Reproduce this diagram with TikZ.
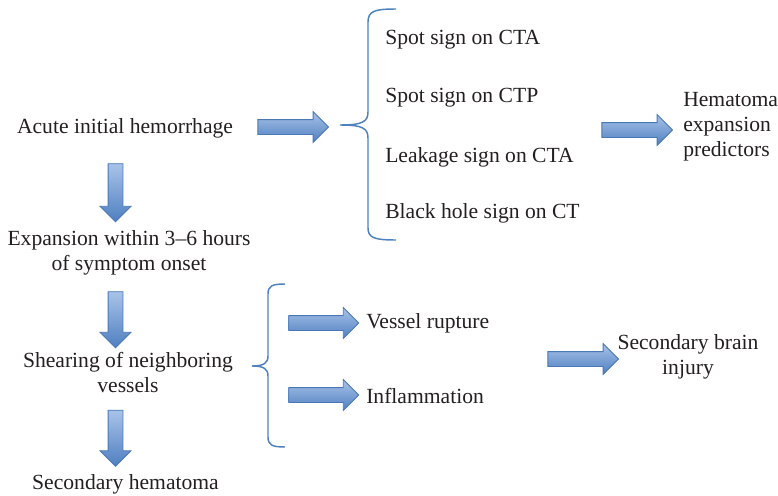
\documentclass[tikz,border=0pt]{standalone}
\usepackage{fontspec}
\setmainfont{Liberation Serif}
\usetikzlibrary{shapes.arrows}
\definecolor{arrowlight}{HTML}{A9C3E8}
\definecolor{arrowdark}{HTML}{4F7FC1}
\definecolor{arrowedge}{HTML}{4A78B4}
\definecolor{bracecol}{HTML}{4F81BD}
\definecolor{txt}{HTML}{231F20}

\begin{document}
\begin{tikzpicture}[x=0.75pt, y=-0.75pt,
      lbl/.style={font=\rmfamily\fontsize{16.2}{18.75}\selectfont, text=txt, inner sep=0pt, align=center},
      item/.style={lbl, anchor=west, align=left},
      blockarrow/.style={single arrow, draw=arrowedge, line width=0.6pt, inner sep=5.25pt,
                   single arrow head extend=6pt, minimum height=53pt,
                   top color=arrowlight, bottom color=arrowdark},
      downarrow/.style={blockarrow, rotate=-90, minimum height=42pt},
      brace/.style={draw=bracecol, line width=1.1pt}]
    \useasboundingbox (0,0) rectangle (778,496);
    \node[lbl] (acute) at (125,128) {Acute initial hemorrhage};
    \node[blockarrow] (a1) at (289.5,127) {};
    \draw[brace] (396,9) .. controls (375,9) and (368,11) .. (368,22) -- (368,112)
      .. controls (368,122) and (362,125) .. (340,125)
      .. controls (362,125) and (368,128) .. (368,138) -- (368,228)
      .. controls (368,238) and (375,240) .. (396,240);
    \node[item] (cta) at (385,40) {Spot sign on CTA};
    \node[item] (ctp) at (385,98) {Spot sign on CTP};
    \node[item] (leak) at (385,157) {Leakage sign on CTA};
    \node[item] (hole) at (385,213) {Black hole sign on CT};
    \node[blockarrow] (a2) at (633.5,130) {};
    \node[item] (pred) at (683,127) {Hematoma\\expansion\\predictors};
    \node[downarrow, minimum height=43.5pt] (d1) at (115.5,189) {};
    \node[lbl] (expand) at (129,253) {Expansion within 3--6 hours\\of symptom onset};
    \node[downarrow] (d2) at (115.5,316) {};
    \node[lbl] (shear) at (128,372) {Shearing of neighboring\\vessels};
    \node[downarrow] (d3) at (115.5,434.5) {};
    \node[lbl] (hema) at (125.5,484) {Secondary hematoma};
    \draw[brace] (285,284) .. controls (272,284) and (268,286) .. (268,294) -- (268,356)
      .. controls (268,363) and (264,366) .. (252,366)
      .. controls (264,366) and (268,369) .. (268,376) -- (268,437)
      .. controls (268,445) and (272,447) .. (285,447);
    \node[blockarrow, minimum height=52.5pt] (a3) at (320,323) {};
    \node[blockarrow, minimum height=52.5pt] (a4) at (320,395) {};
    \node[item] (rupture) at (366,323) {Vessel rupture};
    \node[item] (inflam) at (366,396) {Inflammation};
    \node[blockarrow] (a5) at (579.5,359) {};
    \node[lbl] (injury) at (688,357) {Secondary brain\\injury};
  \end{tikzpicture}
\end{document}
